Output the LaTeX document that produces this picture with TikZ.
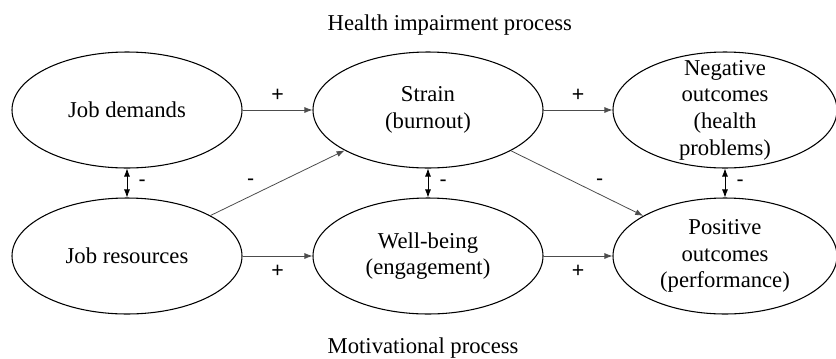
\documentclass[tikz,border=0pt]{standalone}
\usepackage{fontspec}
\setmainfont{Liberation Serif}
\setsansfont{Liberation Sans}
\usetikzlibrary{shapes.geometric,arrows.meta}

\begin{document}
\begin{tikzpicture}[x=0.75pt,y=-0.75pt,
	oval/.style={draw,ellipse,line width=0.8pt,minimum width=172.5pt,minimum height=87pt,inner sep=0pt},
	wideoval/.style={oval,minimum width=168pt},
	txt/.style={align=center,font=\fontsize{17}{20}\selectfont},
	link/.style={-{Latex[length=6pt,width=4.5pt]},black!70,line width=0.6pt},
	twoway/.style={{Latex[length=6pt,width=4.5pt]}-{Latex[length=6pt,width=4.5pt]},black,line width=0.6pt},
	sign/.style={text=black,font=\sffamily\fontsize{16}{20}\selectfont}]
\useasboundingbox (0,0) rectangle (836,358);
\node[oval] (jd) at (127,110) {};
\node[oval] (st) at (428,110) {};
\node[wideoval] (ng) at (725,110) {};
\node[oval] (jr) at (127,256) {};
\node[oval] (wb) at (428,256) {};
\node[wideoval] (ps) at (725,256) {};
\node[txt] (jdt) at (jd) {Job demands};
\node[txt] (stt) at (st) {Strain\\(burnout)};
\node[txt] (ngt) at (ng) {Negative\\outcomes\\(health\\problems)};
\node[txt] (jrt) at (jr) {Job resources};
\node[txt] (wbt) at (wb) {Well-being\\(engagement)};
\node[txt] (pst) at (ps) {Positive\\outcomes\\(performance)};
% process titles
\node[txt,anchor=base west] (hip) at (323,30) {Health impairment process};
\node[txt,anchor=base west] (mp) at (323,353) {Motivational process};
\draw[link] (jd) -- node[sign,above=3pt] {+} (st);
\draw[link] (st) -- node[sign,above=3pt] {+} (ng);
\draw[link] (jr) -- node[sign,below=3pt] {+} (wb);
\draw[link] (wb) -- node[sign,below=3pt] {+} (ps);
\draw[link] (jr) -- node[sign,above=4pt,pos=0.3] {-} (st);
\draw[link] (st) -- node[sign,above=3pt,pos=0.67] {-} (ps);
\draw[twoway] (jd) -- node[sign,right=5pt] {-} (jr);
\draw[twoway] (st) -- node[sign,right=5pt] {-} (wb);
\draw[twoway] (ng) -- node[sign,right=5pt] {-} (ps);
\end{tikzpicture}
\end{document}
